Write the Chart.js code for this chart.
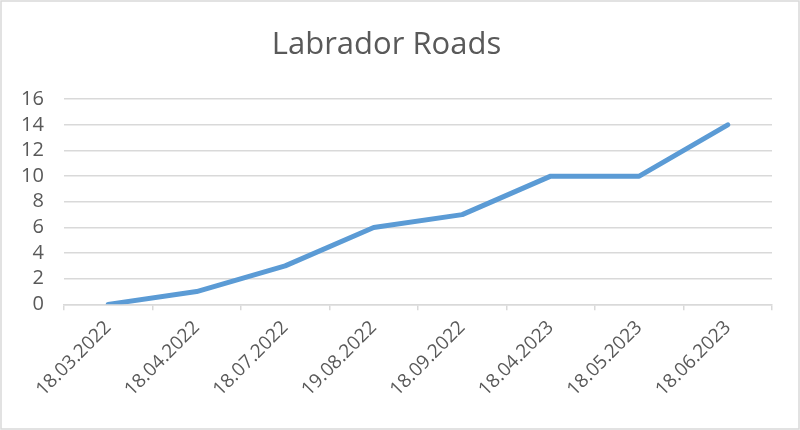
<!DOCTYPE html>
<html>
<head>
<meta charset="utf-8">
<script src="https://cdn.jsdelivr.net/npm/chart.js@4"></script>
<style>
  html, body { margin: 0; padding: 0; background: #ffffff; }
  #wrap { width: 800px; height: 430px; }
</style>
</head>
<body>
<div id="wrap"><canvas id="chart"></canvas></div>
<script>
const dates = ['18.03.2022', '18.04.2022', '18.07.2022', '19.08.2022',
               '18.09.2022', '18.04.2023', '18.05.2023', '18.06.2023'];
const roads = [0, 1, 3, 6, 7, 10, 10, 14];
const yMin = 0;
const yMax = 16;
const yStep = 2;

const textColor = '#595959';
const gridColor = '#d9d9d9';

// light frame round the whole chart
const frame = {
    id: 'frame',
    beforeDraw(chart) {
        const ctx = chart.ctx;
        ctx.save();
        ctx.fillStyle = '#ffffff';
        ctx.fillRect(0, 0, chart.width, chart.height);
        ctx.strokeStyle = gridColor;
        ctx.lineWidth = 1.5;
        ctx.strokeRect(1, 1, chart.width - 2, chart.height - 2);
        ctx.restore();
    }
};

Chart.defaults.font.family = '"Open Sans", "Liberation Sans", sans-serif';
Chart.defaults.color = textColor;

new Chart(document.getElementById('chart'), {
    type: 'line',
    data: {
        labels: dates,
        datasets: [{
            label: 'Labrador Roads',
            data: roads,
            borderColor: '#5b9bd5',
            borderWidth: 5,
            borderCapStyle: 'round',
            borderJoinStyle: 'round',
            pointRadius: 0,
            tension: 0,
            fill: false
        }]
    },
    options: {
        responsive: true,
        maintainAspectRatio: false,
        animation: false,
        layout: { padding: { left: 1, right: 28, top: 4, bottom: 23 } },
        plugins: {
            legend: { display: false },
            tooltip: { enabled: false },
            title: {
                display: true,
                text: 'Labrador Roads',
                color: textColor,
                font: { size: 31, weight: 'normal' },
                padding: { top: 23, bottom: 35 }
            }
        },
        scales: {
            x: {
                offset: true,
                grid: {
                    offset: true,
                    drawOnChartArea: false,
                    drawTicks: true,
                    tickLength: 6,
                    color: gridColor,
                    lineWidth: 1.5
                },
                border: { color: gridColor, width: 1.5 },
                ticks: {
                    maxRotation: 45,
                    minRotation: 45,
                    autoSkip: false,
                    padding: 6,
                    color: textColor,
                    font: { size: 19 }
                }
            },
            y: {
                min: yMin,
                max: yMax,
                grid: {
                    color: gridColor,
                    lineWidth: 1.5,
                    drawTicks: false
                },
                border: { display: false },
                ticks: {
                    stepSize: yStep,
                    autoSkip: false,
                    padding: 20,
                    color: textColor,
                    font: { size: 20 }
                }
            }
        }
    },
    plugins: [frame]
});
</script>
</body>
</html>
